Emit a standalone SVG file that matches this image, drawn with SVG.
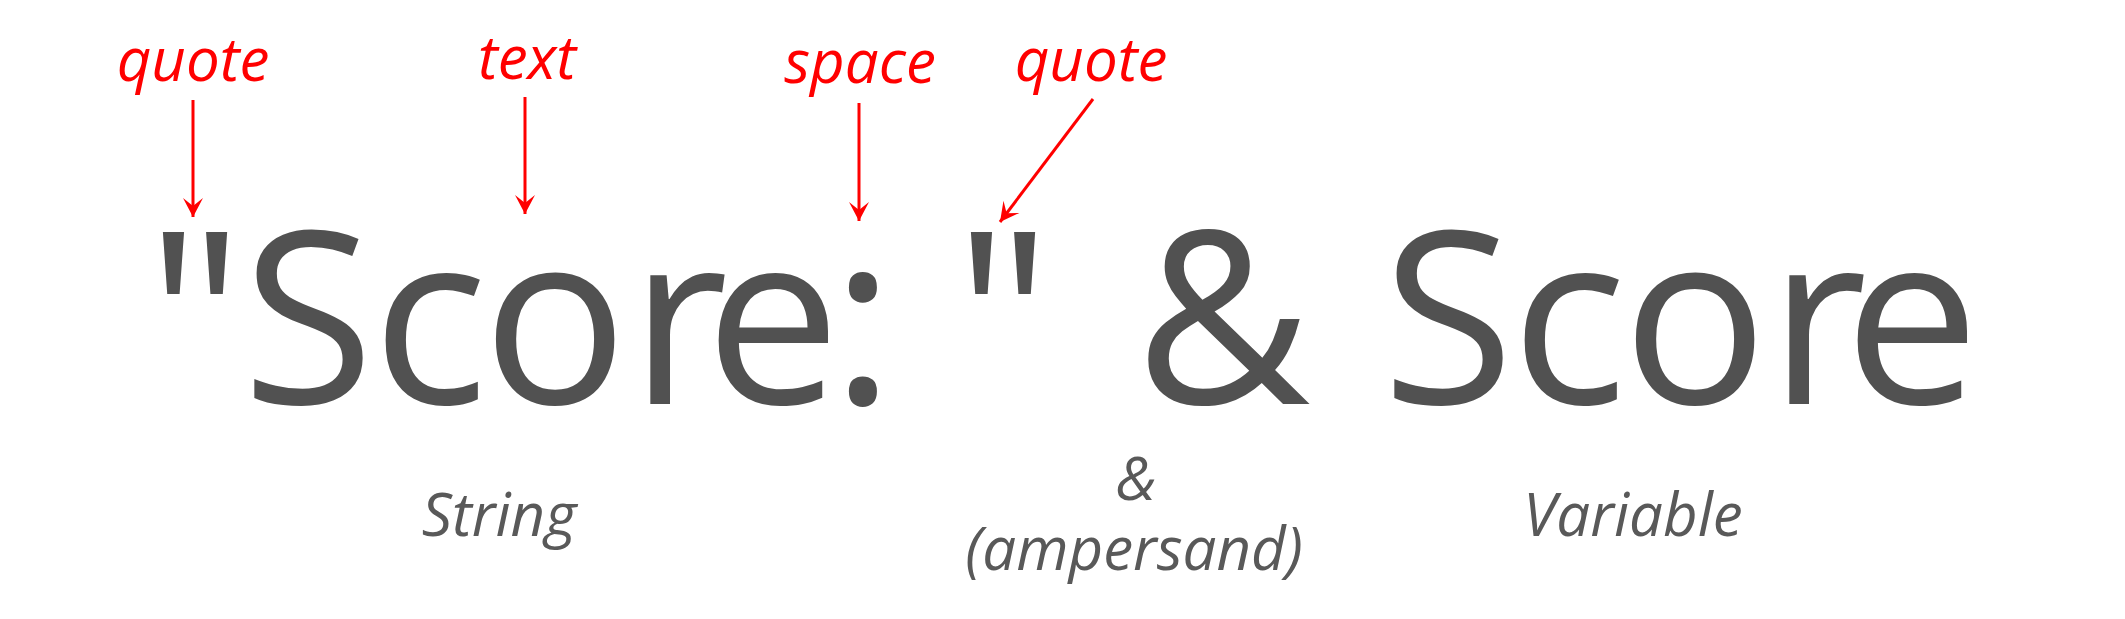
<svg xmlns="http://www.w3.org/2000/svg" width="2125" height="619" viewBox="0 0 2125 619">
<style>
.main{font-family:"Open Sans","Noto Sans",sans-serif;font-size:241px;fill:#515151;text-anchor:middle}
.lbl{font-family:"Open Sans","Noto Sans",sans-serif;font-style:italic;font-size:60px;fill:#ff0000;text-anchor:middle}
.cap{font-family:"Open Sans","Noto Sans",sans-serif;font-style:italic;font-size:60px;fill:#595959;text-anchor:middle}
.arr{stroke:#ff0000;stroke-width:3;fill:none;marker-end:url(#ah)}
</style>
<defs>
<marker id="ah" markerUnits="userSpaceOnUse" viewBox="-20 -11 21 22" refX="0" refY="0" markerWidth="21" markerHeight="22" orient="auto">
<path d="M0,0 L-19,-10 L-11,0 L-19,10 Z" fill="#ff0000"/>
</marker>
</defs>
<rect width="2125" height="619" fill="#ffffff"/>
<g id="expression">
<text class="main" y="404" x="195 308 430 555 679 773 863 933 1003 1110 1223 1340 1448 1569 1695 1818 1912">"Score: " &amp; Score</text>
</g>
<g id="label-quote-1"><text class="lbl" x="193" y="81">quote</text></g>
<g id="label-text"><text class="lbl" x="527" y="79">text</text></g>
<g id="label-space"><text class="lbl" x="860" y="83">space</text></g>
<g id="label-quote-2"><text class="lbl" x="1091" y="81">quote</text></g>
<g id="caption-string"><text class="cap" x="499" y="536">String</text></g>
<g id="caption-ampersand">
<text class="cap" x="1136" y="500">&amp;</text>
<text class="cap" x="1134" y="570">(ampersand)</text>
</g>
<g id="caption-variable"><text class="cap" x="1633" y="536">Variable</text></g>
<g id="connectors">
<line class="arr" x1="193" y1="100" x2="193" y2="217"/>
<line class="arr" x1="525" y1="97" x2="525" y2="214"/>
<line class="arr" x1="859" y1="103" x2="859" y2="221"/>
<line class="arr" x1="1093" y1="99" x2="1000" y2="222"/>
</g>
</svg>
